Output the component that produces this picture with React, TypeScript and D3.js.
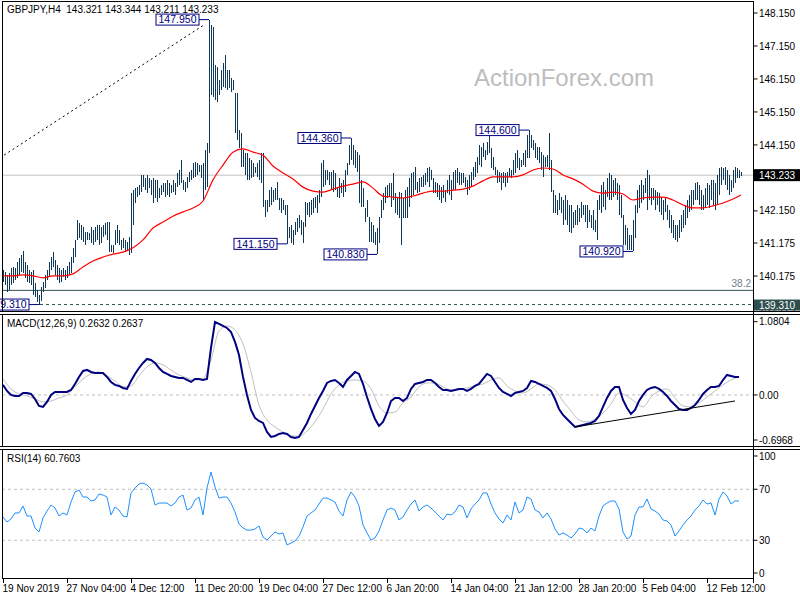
import * as d3 from 'd3'

// GBPJPY H4 bars, one per 4 hours, high / low
const barHigh = [
  140.36, 140.30, 140.21, 140.27, 140.42, 140.45, 140.42, 140.60, 140.72, 140.81,
  140.93, 140.60, 140.51, 140.36, 140.30, 140.36, 139.97, 139.75, 139.60, 139.84,
  140.00, 140.21, 140.36, 140.60, 140.75, 140.90, 140.66, 140.51, 140.42, 140.36,
  140.42, 140.36, 140.48, 140.60, 140.75, 141.03, 141.27, 141.87, 141.78, 141.72,
  141.66, 141.51, 141.51, 141.48, 141.66, 141.57, 141.66, 141.72, 141.72, 141.66,
  141.72, 141.78, 141.81, 141.81, 141.12, 141.12, 141.57, 141.72, 141.57, 141.27,
  141.33, 141.27, 141.21, 141.36, 142.69, 142.78, 142.84, 142.87, 142.93, 143.24,
  143.24, 143.15, 143.24, 143.15, 143.09, 143.15, 143.09, 143.09, 142.84, 142.93,
  143.00, 143.00, 143.09, 143.00, 142.93, 143.09, 143.00, 143.30, 143.39, 143.69,
  143.09, 143.03, 143.18, 143.33, 143.39, 143.60, 143.63, 143.60, 143.54, 143.54,
  143.60, 143.99, 144.21, 147.95, 147.79, 147.72, 146.57, 146.51, 146.12, 146.42,
  146.63, 146.88, 146.42, 146.42, 146.18, 146.12, 145.72, 145.72, 144.60, 144.51,
  143.99, 143.90, 143.90, 143.75, 143.69, 143.60, 143.48, 143.60, 143.69, 143.90,
  143.90, 142.48, 142.48, 142.78, 142.87, 142.78, 142.84, 143.03, 142.54, 142.54,
  142.48, 142.33, 142.33, 141.66, 141.72, 141.57, 141.81, 141.93, 142.03, 141.87,
  141.81, 142.42, 142.39, 142.42, 142.48, 142.54, 142.57, 142.63, 142.78, 143.60,
  143.69, 143.39, 143.39, 143.33, 143.33, 143.39, 143.30, 142.87, 143.15, 143.00,
  143.09, 143.39, 143.60, 144.15, 144.36, 144.15, 143.99, 143.93, 143.84, 143.09,
  142.84, 142.24, 142.48, 141.96, 141.81, 141.72, 141.51, 141.63, 141.96, 142.48,
  142.69, 142.87, 142.93, 143.00, 143.00, 143.30, 142.69, 142.57, 142.72, 142.69,
  142.54, 142.78, 142.87, 143.15, 143.30, 143.33, 143.48, 143.03, 143.15, 143.18,
  143.24, 143.30, 143.45, 143.48, 143.39, 143.15, 143.03, 143.00, 142.93, 142.87,
  142.93, 142.78, 143.09, 143.24, 143.09, 143.33, 143.39, 143.45, 143.33, 143.30,
  143.30, 143.18, 143.09, 143.24, 143.33, 143.48, 143.63, 143.78, 144.15, 144.09,
  144.21, 143.99, 144.24, 144.57, 144.06, 143.78, 143.48, 143.39, 143.33, 143.30,
  143.33, 143.30, 143.33, 143.45, 143.39, 143.69, 143.90, 143.99, 143.75, 143.69,
  143.90, 143.99, 144.45, 144.60, 144.45, 144.30, 144.21, 144.09, 144.09, 143.93,
  143.84, 143.78, 143.84, 144.51, 143.69, 142.78, 142.63, 142.48, 142.69, 142.57,
  142.48, 142.63, 142.48, 142.33, 142.33, 142.12, 142.18, 142.33, 142.24, 142.42,
  142.33, 142.33, 142.33, 142.18, 142.03, 142.18, 141.87, 142.48, 142.63, 142.93,
  143.03, 142.78, 143.15, 143.30, 143.24, 143.09, 143.15, 143.00, 142.93, 142.63,
  142.03, 141.72, 141.63, 141.42, 141.42, 141.87, 142.33, 142.78, 142.93, 143.09,
  142.93, 143.15, 143.39, 143.24, 142.84, 142.84, 142.78, 142.72, 142.69, 142.57,
  142.48, 142.54, 142.33, 142.18, 142.03, 141.87, 141.72, 141.72, 141.87, 142.03,
  142.18, 142.33, 142.48, 142.63, 142.78, 142.78, 143.00, 143.03, 142.93, 142.78,
  142.63, 142.84, 143.00, 142.93, 143.09, 143.09, 143.00, 143.24, 143.45, 143.48,
  143.45, 143.48, 143.39, 143.24, 143.09, 143.39, 143.48, 143.45, 143.39, 143.34,
]
const barLow = [
  140.00, 139.90, 139.69, 139.75, 139.90, 139.97, 140.06, 140.12, 140.21, 140.30,
  140.27, 140.12, 140.00, 139.97, 139.90, 139.60, 139.54, 139.39, 139.31, 139.42,
  139.69, 139.81, 140.06, 140.15, 140.36, 140.45, 140.21, 140.06, 139.97, 140.00,
  140.15, 140.06, 140.12, 140.21, 140.27, 140.57, 140.75, 141.27, 141.33, 141.27,
  141.21, 141.12, 141.27, 141.27, 141.18, 141.12, 141.21, 141.27, 141.12, 141.18,
  141.36, 141.42, 141.27, 140.90, 140.90, 140.87, 141.12, 141.18, 141.12, 140.96,
  141.03, 140.90, 140.96, 140.81, 140.87, 141.72, 142.39, 142.57, 142.63, 142.72,
  142.87, 142.78, 142.69, 142.84, 142.63, 142.39, 142.54, 142.42, 142.54, 142.63,
  142.72, 142.57, 142.63, 142.57, 142.69, 142.72, 142.63, 142.87, 142.93, 143.00,
  142.78, 142.72, 142.84, 143.03, 143.09, 143.15, 143.18, 143.24, 143.33, 143.15,
  142.48, 142.78, 142.87, 143.90, 145.67, 145.60, 145.51, 145.45, 145.67, 145.82,
  145.91, 145.88, 145.82, 145.88, 145.76, 145.82, 144.51, 144.30, 144.06, 143.48,
  143.48, 143.24, 143.09, 143.09, 143.15, 143.18, 143.30, 143.18, 143.09, 143.00,
  142.27, 141.96, 142.12, 142.27, 142.33, 142.42, 142.48, 142.48, 142.18, 142.09,
  142.18, 142.03, 141.15, 141.33, 141.18, 141.12, 141.42, 141.51, 141.63, 141.42,
  141.18, 141.66, 142.03, 141.96, 142.03, 142.09, 142.24, 142.09, 142.39, 142.57,
  142.87, 142.93, 143.09, 142.93, 142.78, 142.72, 142.78, 142.57, 142.54, 142.69,
  142.57, 142.72, 143.24, 143.54, 143.69, 143.54, 143.45, 143.33, 142.39, 142.27,
  142.27, 141.81, 141.96, 141.21, 141.21, 141.18, 141.12, 140.83, 141.18, 141.93,
  142.18, 142.39, 142.54, 142.57, 142.27, 142.48, 142.09, 142.03, 141.93, 141.12,
  141.93, 141.93, 141.93, 142.27, 142.54, 142.63, 142.78, 142.69, 142.72, 142.87,
  142.87, 142.93, 143.03, 142.87, 143.09, 142.69, 142.69, 142.57, 142.48, 142.39,
  142.54, 142.42, 142.69, 142.63, 142.48, 142.78, 142.78, 143.00, 142.93, 142.93,
  143.00, 142.87, 142.63, 142.78, 142.87, 143.09, 143.18, 143.30, 143.54, 143.48,
  143.78, 143.69, 143.84, 143.90, 143.45, 143.39, 143.24, 143.00, 143.03, 142.78,
  143.00, 142.87, 143.00, 143.18, 143.15, 143.24, 143.30, 143.45, 143.39, 143.48,
  143.54, 143.48, 143.75, 143.75, 144.06, 143.99, 143.75, 143.69, 143.60, 143.39,
  143.18, 143.48, 143.48, 143.39, 142.72, 142.09, 142.09, 142.03, 142.18, 142.09,
  141.72, 141.87, 141.72, 141.51, 141.48, 141.63, 141.72, 141.72, 141.81, 141.93,
  142.03, 141.81, 141.63, 141.81, 141.63, 141.57, 141.51, 141.27, 142.18, 142.09,
  142.27, 142.18, 142.57, 142.48, 142.48, 142.57, 142.63, 142.48, 142.03, 141.93,
  141.12, 141.12, 140.96, 140.96, 140.96, 140.92, 141.33, 142.09, 142.24, 142.39,
  142.48, 142.69, 142.18, 142.48, 142.33, 142.48, 142.18, 142.33, 142.12, 142.03,
  141.87, 142.12, 141.87, 141.63, 141.48, 141.33, 141.27, 141.21, 141.33, 141.51,
  141.63, 141.72, 141.93, 142.12, 142.18, 142.33, 142.48, 142.48, 142.33, 142.18,
  142.18, 142.24, 142.33, 142.24, 142.48, 142.33, 142.18, 142.33, 142.63, 142.93,
  143.09, 142.93, 142.78, 142.63, 142.72, 142.84, 143.00, 143.15, 143.15, 143.21,
]

// moving average, read every 5 bars (last point on the last bar)
const maValues = [
  140.18, 140.18, 140.21, 140.18, 140.12, 140.18, 140.18, 140.24, 140.45, 140.63,
  140.75, 140.84, 140.90, 141.03, 141.27, 141.63, 141.81, 141.99, 142.12, 142.24,
  142.45, 143.09, 143.54, 143.93, 144.03, 143.93, 143.84, 143.51, 143.30, 143.12,
  142.87, 142.75, 142.72, 142.81, 142.90, 142.96, 143.03, 142.84, 142.60, 142.57,
  142.54, 142.60, 142.69, 142.75, 142.75, 142.78, 142.81, 142.90, 143.06, 143.18,
  143.18, 143.18, 143.24, 143.39, 143.45, 143.42, 143.24, 143.12, 142.96, 142.75,
  142.69, 142.72, 142.66, 142.48, 142.54, 142.57, 142.57, 142.48, 142.33, 142.24,
  142.24, 142.30, 142.39, 142.51, 142.63,
]

// MACD main, every 2 bars
const macdMain = [
  0.148, 0.059, 0.000, -0.015, -0.015, 0.030, 0.030, 0.015, -0.059, -0.162,
  -0.177, -0.103, 0.000, 0.044, 0.044, 0.044, 0.044, 0.074, 0.162, 0.266,
  0.354, 0.369, 0.339, 0.325, 0.325, 0.325, 0.266, 0.192, 0.148, 0.133,
  0.103, 0.089, 0.207, 0.310, 0.398, 0.472, 0.531, 0.516, 0.472, 0.398,
  0.339, 0.310, 0.280, 0.266, 0.251, 0.251, 0.221, 0.192, 0.236, 0.236,
  0.221, 0.236, 0.693, 1.077, 1.047, 1.018, 0.988, 0.929, 0.782, 0.590,
  0.266, 0.000, -0.221, -0.339, -0.384, -0.413, -0.546, -0.620, -0.605, -0.575,
  -0.561, -0.575, -0.620, -0.634, -0.620, -0.516, -0.413, -0.280, -0.162, -0.044,
  0.059, 0.177, 0.207, 0.221, 0.177, 0.118, 0.221, 0.280, 0.339, 0.310,
  0.162, -0.030, -0.207, -0.354, -0.457, -0.398, -0.266, -0.089, -0.044, -0.044,
  -0.089, -0.044, 0.089, 0.162, 0.177, 0.192, 0.221, 0.221, 0.177, 0.118,
  0.074, 0.074, 0.059, 0.074, 0.089, 0.089, 0.059, 0.089, 0.133, 0.162,
  0.236, 0.310, 0.280, 0.192, 0.103, 0.044, 0.015, -0.015, 0.030, 0.044,
  0.059, 0.103, 0.207, 0.192, 0.162, 0.133, 0.103, 0.059, -0.059, -0.207,
  -0.295, -0.354, -0.413, -0.472, -0.457, -0.443, -0.428, -0.413, -0.384, -0.310,
  -0.177, -0.044, 0.059, 0.118, 0.118, -0.074, -0.192, -0.280, -0.221, -0.089,
  0.000, 0.074, 0.103, 0.118, 0.089, 0.044, -0.015, -0.089, -0.148, -0.207,
  -0.221, -0.221, -0.192, -0.148, -0.074, 0.015, 0.074, 0.118, 0.118, 0.133,
  0.221, 0.295, 0.280, 0.266, 0.263,
]

// MACD signal, every 4 bars
const macdSignal = [
  0.236, 0.089, 0.015, -0.015, -0.059, -0.103, -0.089, -0.044, 0.000, 0.118,
  0.236, 0.310, 0.339, 0.280, 0.207, 0.118, 0.133, 0.280, 0.413, 0.472,
  0.443, 0.369, 0.295, 0.251, 0.221, 0.236, 0.516, 0.944, 1.018, 0.959,
  0.752, 0.339, -0.148, -0.369, -0.472, -0.546, -0.605, -0.605, -0.531, -0.398,
  -0.207, 0.015, 0.148, 0.207, 0.221, 0.207, 0.089, -0.162, -0.266, -0.251,
  -0.118, -0.030, 0.118, 0.177, 0.177, 0.118, 0.074, 0.089, 0.103, 0.133,
  0.162, 0.221, 0.251, 0.133, 0.059, 0.030, 0.089, 0.162, 0.148, 0.074,
  -0.089, -0.236, -0.369, -0.398, -0.354, -0.266, -0.133, 0.030, -0.015, -0.103,
  -0.177, -0.030, 0.059, 0.089, -0.044, -0.162, -0.177, -0.118, -0.030, 0.059,
  0.148, 0.221, 0.264,
]

// RSI(14), every 2 bars
const rsiValues = [
  48.2, 44.3, 46.7, 51.4, 51.4, 56.9, 49.0, 49.0, 39.6, 36.5,
  47.5, 52.9, 57.6, 55.3, 49.0, 51.4, 49.8, 60.0, 67.8, 69.4,
  63.9, 63.9, 60.8, 61.6, 66.3, 65.5, 63.9, 49.8, 56.1, 53.7,
  49.0, 48.2, 67.1, 71.0, 74.1, 74.9, 73.3, 70.2, 57.6, 59.2,
  59.2, 59.2, 56.9, 59.2, 63.9, 65.5, 53.7, 55.3, 61.6, 63.9,
  49.8, 71.0, 83.5, 71.8, 63.1, 63.9, 63.9, 59.2, 52.2, 42.7,
  39.6, 38.0, 38.0, 38.8, 41.2, 32.5, 30.2, 33.3, 36.5, 34.9,
  35.7, 26.3, 27.8, 29.4, 33.3, 40.4, 49.0, 51.4, 53.7, 58.4,
  63.1, 63.1, 61.6, 60.0, 52.9, 49.0, 61.6, 67.8, 63.9, 56.9,
  42.0, 35.7, 30.2, 31.8, 37.3, 45.9, 53.7, 55.3, 53.7, 45.9,
  48.2, 53.7, 58.4, 61.6, 52.9, 56.1, 57.6, 55.3, 52.2, 49.0,
  45.9, 50.6, 49.8, 52.2, 57.6, 56.1, 47.5, 54.5, 58.4, 61.6,
  67.1, 67.1, 58.4, 51.4, 46.7, 43.5, 49.8, 45.9, 60.0, 51.4,
  53.7, 63.9, 62.4, 53.7, 52.2, 47.5, 51.4, 46.7, 38.8, 34.1,
  35.7, 34.1, 31.8, 34.9, 39.6, 38.8, 35.7, 39.6, 37.3, 49.0,
  56.9, 59.2, 60.8, 60.8, 54.5, 36.5, 31.0, 33.3, 49.8, 56.1,
  56.1, 62.4, 54.5, 52.9, 50.6, 45.9, 45.1, 42.0, 33.3, 37.3,
  42.0, 45.9, 49.0, 53.7, 56.9, 61.6, 58.4, 59.2, 49.8, 62.4,
  67.8, 64.7, 58.4, 60.8, 60.76,
]

const priceTicks = [148.15, 147.15, 146.15, 145.15, 144.15, 142.15, 141.175, 140.175, 139.175]
const macdTicks = [1.0804, 0, -0.6968]
const macdTickText = ['1.0804', '0.00', '-0.6968']
const rsiTicks = [100, 70, 30, 0]
const rsiLevels = [70, 30]
const dateLabels = [
  '19 Nov 2019', '27 Nov 04:00', '4 Dec 12:00', '11 Dec 20:00', '19 Dec 04:00', '27 Dec 12:00',
  '6 Jan 20:00', '14 Jan 04:00', '21 Jan 12:00', '28 Jan 20:00', '5 Feb 04:00', '12 Feb 12:00',
]
const barsPerDateLabel = 32

const lastOHLC = [143.321, 143.344, 143.211, 143.233]
const macdNow = [0.2632, 0.2637]
const rsiNow = 60.7603
const supportLevel = 139.31
const fibLevel = 139.74

// swing high / low labels
const swingBars = [103, 142, 174, 263, 187, 315, 18]
const swingPrices = [147.95, 141.15, 144.36, 144.6, 140.83, 140.92, 139.31]

const trendBars = [-1.5, 100.5]
const trendPrices = [143.76, 147.79]
const macdTrendBars = [286, 366]
const macdTrendValues = [-0.472, -0.089]

const font = "'Liberation Sans', Arial, sans-serif"
const axisX = 753.5

const x = d3.scaleLinear().domain([0, 369]).range([3, 741])
const yP = d3.scaleLinear().domain([139.175, 148.15]).range([309, 13])
const yM = d3.scaleLinear().domain([-0.6968, 1.0804]).range([442.2, 321.7])
const yR = d3.scaleLinear().domain([0, 100]).range([578.5, 451])

const maLine = d3.line<number>()
  .x((_, i) => x(Math.min(i * 5, 369)))
  .y(d => yP(d))
  .curve(d3.curveMonotoneX)
const macdLine = d3.line<number>().x((_, i) => x(i * 2)).y(d => yM(d))
const signalLine = d3.line<number>()
  .x((_, i) => x(i * 4))
  .y(d => yM(d))
  .curve(d3.curveMonotoneX)
const rsiLine = d3.line<number>().x((_, i) => x(i * 2)).y(d => yR(d))

const Separator = ({ y }: { y: number }) => (
  <g>
    <rect x={0} y={y - 1.5} width={800} height={3} fill="#fff" />
    <line x1={0} x2={800} y1={y - 1.5} y2={y - 1.5} stroke="#000" />
    <line x1={0} x2={800} y1={y + 1.5} y2={y + 1.5} stroke="#000" />
  </g>
)

export default function App() {
  return (
    <svg width={800} height={600} style={{ position: 'absolute', left: 0, top: 0, background: '#fff' }}
      fontFamily={font}>
      <defs>
        <clipPath id="mainClip"><rect x={2} y={2} width={751} height={309} /></clipPath>
      </defs>

      {/* main price window */}
      <text x={474} y={86} fontSize={24} fill="#bdbdbd">ActionForex.com</text>
      <text x={7} y={13} fontSize={10} fill="#000" style={{ whiteSpace: 'pre' }}>
        {`GBPJPY,H4  ${lastOHLC.map(v => v.toFixed(3)).join(' ')}`}
      </text>

      <line x1={2} x2={axisX} y1={yP(lastOHLC[3])} y2={yP(lastOHLC[3])} stroke="#c0c0c0" />
      <line x1={2} x2={axisX} y1={yP(fibLevel)} y2={yP(fibLevel)} stroke="#2f4f4f" />
      <text x={751} y={yP(fibLevel) - 3} fontSize={10} fill="#708090" textAnchor="end">38.2</text>
      <line x1={40} x2={axisX} y1={yP(supportLevel)} y2={yP(supportLevel)} stroke="#2f4f4f" strokeDasharray="3,3" />

      <g clipPath="url(#mainClip)">
        <line x1={x(trendBars[0])} x2={x(trendBars[1])} y1={yP(trendPrices[0])} y2={yP(trendPrices[1])}
          stroke="#000" strokeDasharray="2,3" />
      </g>

      <g stroke="#0f3757" strokeWidth={1} shapeRendering="crispEdges">
        {barHigh.map((h, i) => (
          <line key={i} x1={x(i) + 0.5} x2={x(i) + 0.5} y1={yP(h)} y2={yP(barLow[i])} />
        ))}
      </g>
      <path d={maLine(maValues) ?? ''} fill="none" stroke="#ff0000" strokeWidth={1.2} />

      {swingBars.map((b, i) => {
        const bx = x(b)
        const py = yP(swingPrices[i])
        const right = bx - 10
        return (
          <g key={i}>
            <line x1={right} x2={bx} y1={py} y2={py} stroke="#000080" />
            <rect x={right - 43} y={py - 5.5} width={43} height={11} fill="#fff" stroke="#000080" />
            <text x={right - 21.5} y={py} dy="0.36em" fontSize={10.5} fill="#000080" textAnchor="middle">
              {swingPrices[i].toFixed(3)}
            </text>
          </g>
        )
      })}

      <rect x={2.5} y={1.5} width={751} height={310} fill="none" stroke="#000" />

      {/* price axis */}
      {priceTicks.map(t => (
        <g key={t}>
          <line x1={axisX} x2={axisX + 4} y1={yP(t)} y2={yP(t)} stroke="#000" />
          <text x={759} y={yP(t)} dy="0.36em" fontSize={10} fill="#000">{t.toFixed(3)}</text>
        </g>
      ))}
      <rect x={754} y={yP(lastOHLC[3]) - 6} width={46} height={12} fill="#000" />
      <text x={759} y={yP(lastOHLC[3])} dy="0.36em" fontSize={10} fill="#fff">{lastOHLC[3].toFixed(3)}</text>
      <rect x={754} y={yP(supportLevel) - 5} width={46} height={11} fill="#2f4f4f" />
      <text x={759} y={yP(supportLevel) + 0.5} dy="0.36em" fontSize={10} fill="#fff">{supportLevel.toFixed(3)}</text>

      <Separator y={313} />

      {/* MACD window */}
      <text x={7} y={327} fontSize={10} fill="#000">
        {`MACD(12,26,9) ${macdNow.map(v => v.toFixed(4)).join(' ')}`}
      </text>
      <line x1={2} x2={axisX} y1={yM(0)} y2={yM(0)} stroke="#c0c0c0" strokeDasharray="3,3" />
      <path d={signalLine(macdSignal) ?? ''} fill="none" stroke="#c0c0c0" strokeWidth={1} />
      <path d={macdLine(macdMain) ?? ''} fill="none" stroke="#000080" strokeWidth={2} />
      <line x1={x(macdTrendBars[0])} x2={x(macdTrendBars[1])} y1={yM(macdTrendValues[0])} y2={yM(macdTrendValues[1])}
        stroke="#000" />
      <line x1={2.5} x2={2.5} y1={314.5} y2={446.5} stroke="#000" />
      {macdTicks.map((t, i) => {
        const ty = Math.max(321, Math.min(440, yM(t)))
        return (
          <g key={t}>
            <line x1={axisX} x2={axisX + 4} y1={ty} y2={ty} stroke="#000" />
            <text x={759} y={ty} dy="0.36em" fontSize={10} fill="#000">{macdTickText[i]}</text>
          </g>
        )
      })}

      <Separator y={448} />

      {/* RSI window */}
      <text x={7} y={462} fontSize={10} fill="#000">{`RSI(14) ${rsiNow.toFixed(4)}`}</text>
      {rsiLevels.map(l => (
        <line key={l} x1={2} x2={axisX} y1={yR(l)} y2={yR(l)} stroke="#c0c0c0" strokeDasharray="3,3" />
      ))}
      <path d={rsiLine(rsiValues) ?? ''} fill="none" stroke="#1e90ff" strokeWidth={1} />
      <line x1={2.5} x2={2.5} y1={449.5} y2={578.5} stroke="#000" />
      {rsiTicks.map(t => {
        const ty = Math.max(456, Math.min(573, yR(t)))
        return (
          <g key={t}>
            <line x1={axisX} x2={axisX + 4} y1={ty} y2={ty} stroke="#000" />
            <text x={759} y={ty} dy="0.36em" fontSize={10} fill="#000">{t}</text>
          </g>
        )
      })}

      {/* frame and time axis */}
      <line x1={axisX} x2={axisX} y1={1.5} y2={583} stroke="#000" />
      <line x1={2} x2={axisX} y1={578.5} y2={578.5} stroke="#000" />
      {dateLabels.map((d, i) => {
        const tx = Math.round(x(i * barsPerDateLabel)) + 0.5
        return (
          <g key={d}>
            <line x1={tx} x2={tx} y1={578.5} y2={583} stroke="#000" />
            <text x={tx - 1} y={592} fontSize={10} fill="#000">{d}</text>
          </g>
        )
      })}
    </svg>
  )
}
